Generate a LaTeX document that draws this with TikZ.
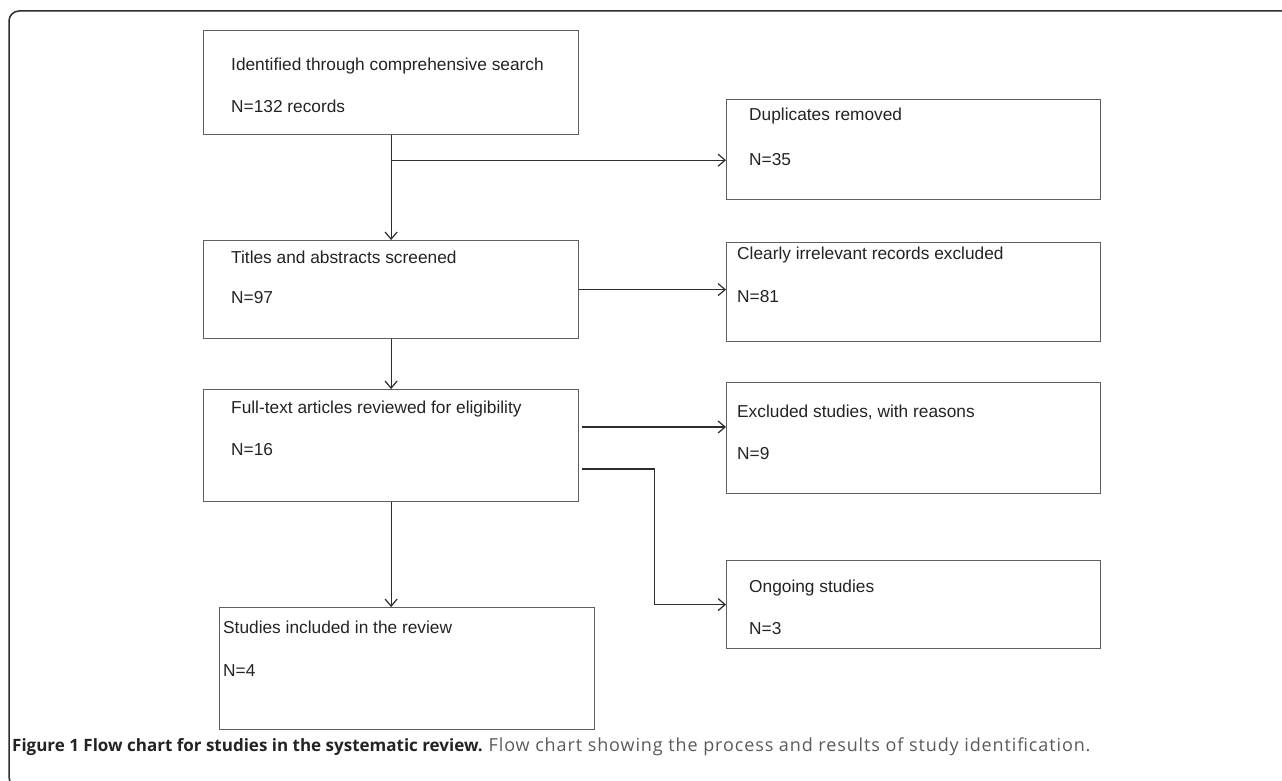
\documentclass[tikz,border=0pt]{standalone}
\usepackage{fontspec}
\setmainfont{Liberation Sans}
\newfontfamily\capfont{Open Sans}
\usepackage{xcolor}
\usepackage{tikz}
\usetikzlibrary{arrows.meta, positioning, calc}
\definecolor{boxgray}{RGB}{95,95,95}
\definecolor{linegray}{RGB}{45,45,45}
\definecolor{txtgray}{RGB}{35,35,35}
\definecolor{capgray}{RGB}{90,90,90}

\begin{document}
\begin{tikzpicture}[x=1pt,y=-1pt,
  every node/.style={font=\fontsize{17.3}{20}\selectfont, text=txtgray},
  flowbox/.style={draw=boxgray, line width=1.2pt, anchor=north west, inner sep=0pt},
  boxtext/.style={anchor=base west, inner sep=0pt},
  flowline/.style={draw=linegray, line width=1.2pt},
  flowarrow/.style={flowline, -{Straight Barb[length=7pt,width=12pt]}}]
  \useasboundingbox (0,0) rectangle (1282,781);
  % outer frame
  \draw[linegray, line width=1.5pt, rounded corners=10pt] (9,11) rectangle (1300,787);

  % boxes of the main column
  \node[flowbox, minimum width=375pt, minimum height=104pt] (ident) at (203,30) {};
  \node[flowbox, minimum width=375pt, minimum height=98pt] (titles) at (203,240) {};
  \node[flowbox, minimum width=375pt, minimum height=112pt] (fulltext) at (203,389) {};
  \node[flowbox, minimum width=375pt, minimum height=122pt] (incl) at (219,607) {};
  % boxes on the right
  \node[flowbox, minimum width=374pt, minimum height=100pt] (dup) at (726,99) {};
  \node[flowbox, minimum width=374pt, minimum height=99pt] (irrel) at (726,242) {};
  \node[flowbox, minimum width=374pt, minimum height=111pt] (excl) at (726,382) {};
  \node[flowbox, minimum width=374pt, minimum height=88pt] (ongoing) at (726,560) {};

  % texts
  \node[boxtext] (identA) at ($(ident.north west)+(28,41)$) {Identified through comprehensive search};
  \node[boxtext] (identB) at ($(ident.north west)+(28,83)$) {N=132 records};
  \node[boxtext] (dupA) at ($(dup.north west)+(23,22)$) {Duplicates removed};
  \node[boxtext] (dupB) at ($(dup.north west)+(23,66)$) {N=35};
  \node[boxtext] (titlesA) at ($(titles.north west)+(28,23)$) {Titles and abstracts screened};
  \node[boxtext] (titlesB) at ($(titles.north west)+(28,63)$) {N=97};
  \node[boxtext] (irrelA) at ($(irrel.north west)+(11,17)$) {Clearly irrelevant records excluded};
  \node[boxtext] (irrelB) at ($(irrel.north west)+(11,60)$) {N=81};
  \node[boxtext] (fulltextA) at ($(fulltext.north west)+(28,24)$) {Full-text articles reviewed for eligibility};
  \node[boxtext] (fulltextB) at ($(fulltext.north west)+(28,66)$) {N=16};
  \node[boxtext] (exclA) at ($(excl.north west)+(11,35)$) {Excluded studies, with reasons};
  \node[boxtext] (exclB) at ($(excl.north west)+(11,77)$) {N=9};
  \node[boxtext] (ongoingA) at ($(ongoing.north west)+(23,32)$) {Ongoing studies};
  \node[boxtext] (ongoingB) at ($(ongoing.north west)+(23,74)$) {N=3};
  \node[boxtext] (inclA) at ($(incl.north west)+(4,26)$) {Studies included in the review};
  \node[boxtext] (inclB) at ($(incl.north west)+(4,69)$) {N=4};

  % connectors
  \coordinate (split) at ($(ident.south)+(0,25)$);
  \coordinate (exclout) at ($(fulltext.north east)+(3,38)$);
  \coordinate (ongoout) at ($(fulltext.north east)+(3,80)$);
  \draw[flowarrow] (ident) -- (titles);
  \draw[flowarrow] (split) -- (split -| dup.west);
  \draw[flowarrow] (titles.east) -- (titles.east -| irrel.west);
  \draw[flowarrow] (titles) -- (fulltext);
  \draw[flowarrow] (exclout) -- (exclout -| excl.west);
  \draw[flowarrow] (ongoout) -- ++(72,0) |- (ongoing.west);
  \draw[flowarrow] (fulltext.south) -- (fulltext.south |- incl.north);

  % caption
  \node[anchor=base west, inner sep=0pt, font=\capfont\fontsize{17}{20}\selectfont] (caption) at (12,751)
    {\textbf{Figure 1 Flow chart for studies in the systematic review.} {\fontsize{18}{20}\selectfont\addfontfeature{LetterSpace=5}\color{capgray}Flow chart showing the process and results of study identification.}};
\end{tikzpicture}
\end{document}
